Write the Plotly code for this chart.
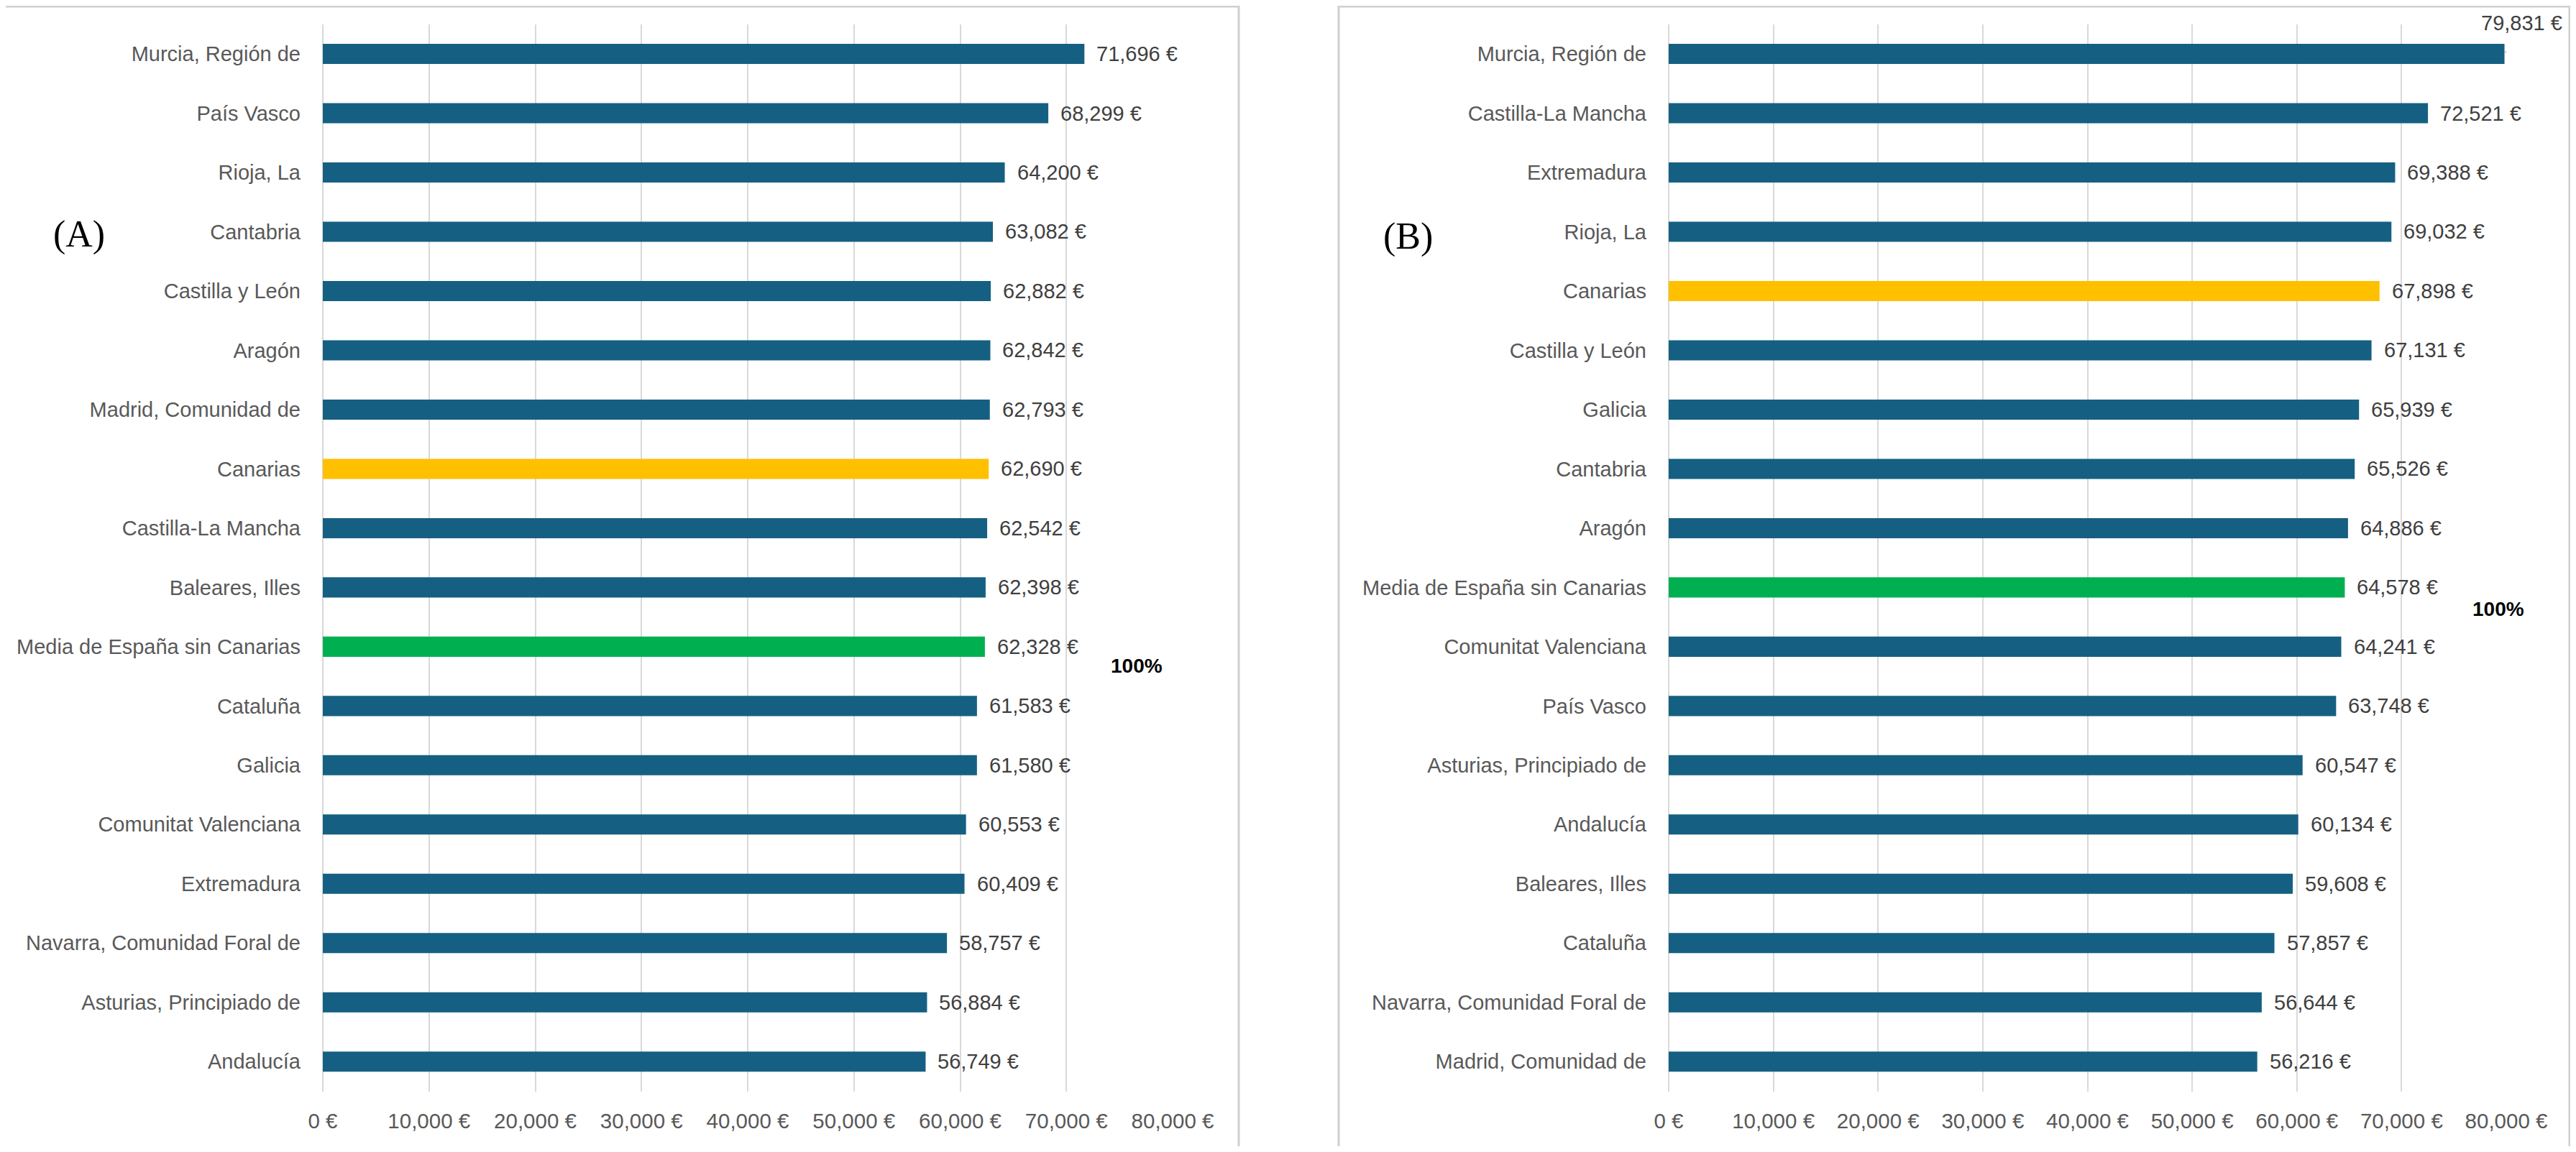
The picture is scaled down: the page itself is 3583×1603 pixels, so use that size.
import plotly.graph_objects as go

# =====================
# DATA
# =====================
regions_a = [
    "Murcia, Región de", "País Vasco", "Rioja, La", "Cantabria", "Castilla y León",
    "Aragón", "Madrid, Comunidad de", "Canarias", "Castilla-La Mancha", "Baleares, Illes",
    "Media de España sin Canarias", "Cataluña", "Galicia", "Comunitat Valenciana",
    "Extremadura", "Navarra, Comunidad Foral de", "Asturias, Principiado de", "Andalucía",
]
values_a = [71696, 68299, 64200, 63082, 62882, 62842, 62793, 62690, 62542, 62398,
            62328, 61583, 61580, 60553, 60409, 58757, 56884, 56749]

regions_b = [
    "Murcia, Región de", "Castilla-La Mancha", "Extremadura", "Rioja, La", "Canarias",
    "Castilla y León", "Galicia", "Cantabria", "Aragón", "Media de España sin Canarias",
    "Comunitat Valenciana", "País Vasco", "Asturias, Principiado de", "Andalucía",
    "Baleares, Illes", "Cataluña", "Navarra, Comunidad Foral de", "Madrid, Comunidad de",
]
values_b = [79831, 72521, 69388, 69032, 67898, 67131, 65939, 65526, 64886, 64578,
            64241, 63748, 60547, 60134, 59608, 57857, 56644, 56216]

x_ticks = [0, 10000, 20000, 30000, 40000, 50000, 60000, 70000, 80000]
x_ticktext = [f"{v:,} €" for v in x_ticks]

# =====================
# STYLE
# =====================
PAGE_W, PAGE_H = 3583, 1603
OFF = 8  # default body margin of the html page
W, H = PAGE_W - 2 * OFF, PAGE_H - 2 * OFF
BLUE = "#156082"
YELLOW = "#FFC000"
GREEN = "#00B050"
GRID = "#D9D9D9"
AXIS_TXT = "#595959"
LABEL_TXT = "#404040"
FONT = "Liberation Sans, Arial, sans-serif"
SERIF = "Liberation Serif, Times New Roman, serif"


def bar_colors(regions):
    out = []
    for r in regions:
        if r == "Canarias":
            out.append(YELLOW)
        elif r.startswith("Media de España"):
            out.append(GREEN)
        else:
            out.append(BLUE)
    return out


# page pixel -> paper fraction
def px_x(p):
    return (p - OFF) / W


def px_y(p):
    return 1 - (p - OFF) / H


fig = go.Figure()
fig.add_trace(go.Bar(x=values_a, y=regions_a, orientation="h", xaxis="x", yaxis="y",
                     marker=dict(color=bar_colors(regions_a), line=dict(width=0)),
                     hoverinfo="x+y", showlegend=False))
fig.add_trace(go.Bar(x=values_b, y=regions_b, orientation="h", xaxis="x2", yaxis="y2",
                     marker=dict(color=bar_colors(regions_b), line=dict(width=0)),
                     hoverinfo="x+y", showlegend=False))

xcommon = dict(range=[0, 80000], tickmode="array", tickvals=x_ticks, ticktext=x_ticktext,
               showgrid=True, gridcolor=GRID, gridwidth=2, zeroline=True,
               zerolinecolor=GRID, zerolinewidth=2, showline=False, ticks="",
               ticklabelstandoff=21, tickfont=dict(size=29.5, color=AXIS_TXT, family=FONT),
               automargin=False, fixedrange=True)
ycommon = dict(type="category", autorange="reversed", showgrid=False, zeroline=False,
               showline=False, ticks="", ticklabelstandoff=30,
               tickfont=dict(size=29, color=AXIS_TXT, family=FONT),
               domain=[px_y(1518.5), px_y(33.8)], automargin=False, fixedrange=True)

fig.update_layout(
    template="none",
    width=W, height=H,
    margin=dict(l=0, r=0, t=0, b=0, pad=0),
    paper_bgcolor="white", plot_bgcolor="white",
    bargap=0.66,
    font=dict(family=FONT, color=AXIS_TXT),
    xaxis=dict(domain=[px_x(449), px_x(1631)], anchor="y", **xcommon),
    xaxis2=dict(domain=[px_x(2321), px_x(3486)], anchor="y2", **xcommon),
    yaxis=dict(anchor="x", categoryarray=regions_a, **ycommon),
    yaxis2=dict(anchor="x2", categoryarray=regions_b, **ycommon),
)

# panel frames
for x0, x1 in [(4, 1723), (1862, 3574)]:
    fig.add_shape(type="rect", xref="paper", yref="paper",
                  x0=px_x(x0), x1=px_x(x1), y0=px_y(1597), y1=px_y(OFF + 1),
                  line=dict(color="#D0D0D0", width=3), fillcolor="rgba(0,0,0,0)", layer="below")

# data labels
LBL_FONT = dict(size=29, color=LABEL_TXT, family=FONT)
annotations = []
for r, v in zip(regions_a, values_a):
    annotations.append(dict(x=v, y=r, xref="x", yref="y", text=f"{v:,} €", showarrow=False,
                            xanchor="left", xshift=15, font=LBL_FONT))
for i, (r, v) in enumerate(zip(regions_b, values_b)):
    if i == 0:
        # top label sits above the bar end with a leader line
        annotations.append(dict(x=v, y=r, xref="x2", yref="y2", text=f"{v:,} €",
                                showarrow=False, xanchor="center", yanchor="middle",
                                xshift=24, yshift=43, font=LBL_FONT))
        fig.add_shape(type="line", xref="x2", yref="y2",
                      xsizemode="pixel", xanchor=v, x0=1, x1=26,
                      ysizemode="pixel", yanchor=0, y0=2, y1=20,
                      line=dict(color="#A6A6A6", width=1.5))
    else:
        annotations.append(dict(x=v, y=r, xref="x2", yref="y2", text=f"{v:,} €",
                                showarrow=False, xanchor="left", xshift=15, font=LBL_FONT))

# 100% markers next to the Spain average
annotations.append(dict(x=76600, y="Media de España sin Canarias", xref="x", yref="y",
                        text="<b>100%</b>", showarrow=False, xanchor="center", yshift=-27,
                        font=dict(size=28, color="black", family=FONT)))
annotations.append(dict(x=79250, y="Media de España sin Canarias", xref="x2", yref="y2",
                        text="<b>100%</b>", showarrow=False, xanchor="center", yshift=-30,
                        font=dict(size=28, color="black", family=FONT)))

# panel letters
annotations.append(dict(x=px_x(110), y=px_y(326), xref="paper", yref="paper", text="(A)",
                        xanchor="center", yanchor="middle", showarrow=False,
                        font=dict(size=52, color="black", family=SERIF)))
annotations.append(dict(x=px_x(1958), y=px_y(329), xref="paper", yref="paper", text="(B)",
                        xanchor="center", yanchor="middle", showarrow=False,
                        font=dict(size=52, color="black", family=SERIF)))

fig.update_layout(annotations=annotations)

fig.write_html("out.html")
